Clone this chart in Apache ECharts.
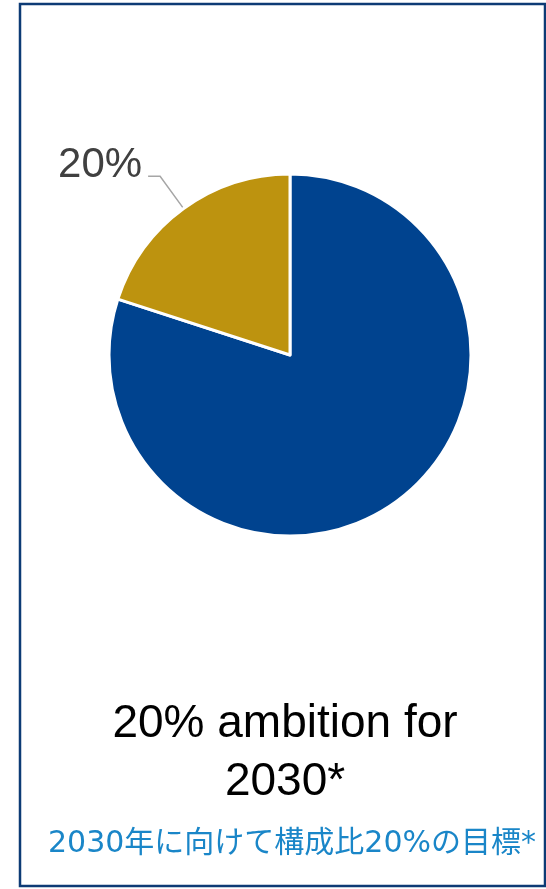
<!DOCTYPE html>
<html>
<head>
<meta charset="utf-8">
<script src="https://cdn.jsdelivr.net/npm/echarts@6/dist/echarts.min.js"></script>
<style>
html,body{margin:0;padding:0;background:#fff;}
#c{width:546px;height:889px;}
</style>
</head>
<body>
<div id="c"></div>
<script>
const categories = ['Other', 'Target share'];
const values = [80, 20];
const colors = ['#00438f', '#bd930f'];
const titleLines = ['20% ambition for', '2030*'];
const subtitle = '2030年に向けて構成比20%の目標*';

const chart = echarts.init(document.getElementById('c'), null, {renderer: 'canvas'});
chart.setOption({
  animation: false,
  graphic: [
    {type: 'rect', shape: {x: 20, y: 4, width: 525, height: 882}, style: {fill: 'none', stroke: '#0d3b75', lineWidth: 2.5}, z: 0},
    {type: 'text', style: {text: titleLines[0], x: 285, y: 701, align: 'center', verticalAlign: 'top', font: '46px "Liberation Sans", Arial, sans-serif', fill: '#000'}},
    {type: 'text', style: {text: titleLines[1], x: 285, y: 759, align: 'center', verticalAlign: 'top', font: '46px "Liberation Sans", Arial, sans-serif', fill: '#000'}},
    {type: 'text', style: {text: subtitle, x: 292, y: 829, align: 'center', verticalAlign: 'top', font: '30px "DejaVu Sans", "Noto Sans CJK JP", sans-serif', fill: '#1a86c8'}}
  ],
  series: [{
    type: 'pie',
    center: [290, 355],
    radius: [0, 181],
    startAngle: 90,
    clockwise: true,
    data: categories.map((c, i) => ({
      name: c, value: values[i],
      itemStyle: {color: colors[i]},
      label: {show: i === 1},
      labelLine: {show: i === 1}
    })),
    itemStyle: {borderColor: '#fff', borderWidth: 3},
    label: {
      formatter: '{v|{d}%}\n{s| }',
      fontFamily: '"Liberation Sans", Arial, sans-serif',
      color: '#404040',
      distanceToLabelLine: 6,
      rich: {
        v: {fontSize: 42, color: '#404040', fontFamily: '"Liberation Sans", Arial, sans-serif', lineHeight: 44},
        s: {fontSize: 10, lineHeight: 22}
      }
    },
    labelLine: {length: 40, length2: 12, lineStyle: {color: '#a6a6a6', width: 1.5}},
    emphasis: {disabled: true}
  }]
});
</script>
</body>
</html>
